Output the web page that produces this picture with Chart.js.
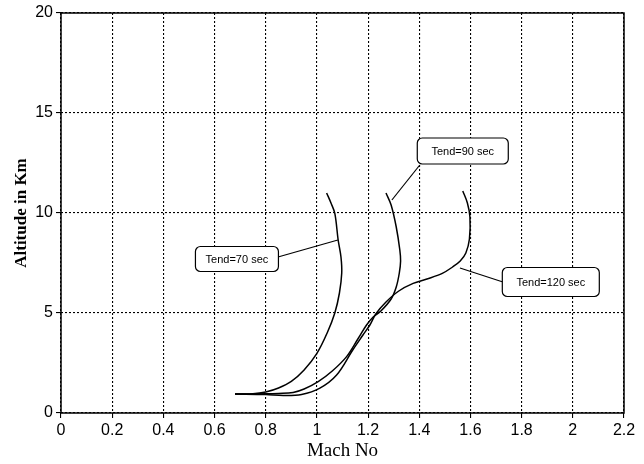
<!DOCTYPE html>
<html>
<head>
<meta charset="utf-8">
<script src="https://cdn.jsdelivr.net/npm/chart.js@4"></script>
<style>
  html, body { margin: 0; padding: 0; background: #fff; }
  #wrap { width: 644px; height: 464px; }
</style>
</head>
<body>
<div id="wrap"><canvas id="c"></canvas></div>
<script>
// Mach number vs altitude for three burn times
var xTicks = [0, 0.2, 0.4, 0.6, 0.8, 1, 1.2, 1.4, 1.6, 1.8, 2, 2.2];
var yTicks = [0, 5, 10, 15, 20];

var mach70 = [0.68, 0.75, 0.80, 0.85, 0.90, 0.95, 1.00, 1.04, 1.07, 1.088, 1.097, 1.094, 1.083, 1.07, 1.055, 1.038];
var alt70  = [0.95, 0.96, 1.05, 1.25, 1.58, 2.15, 2.98, 4.0, 5.0, 6.0, 7.0, 7.8, 8.65, 9.98, 10.5, 11.0];

var mach90 = [0.68, 0.80, 0.85, 0.907, 0.95, 1.005, 1.06, 1.116, 1.16, 1.194, 1.22, 1.25, 1.29, 1.31, 1.322, 1.327, 1.324, 1.31, 1.29, 1.27];
var alt90  = [0.95, 0.96, 0.98, 1.03, 1.2, 1.57, 2.1, 2.82, 3.7, 4.4, 4.8, 5.1, 5.7, 6.3, 7.0, 7.6, 8.15, 9.3, 10.4, 11.0];

var mach120 = [0.68, 0.80, 0.87, 0.94, 1.01, 1.077, 1.14, 1.18, 1.207, 1.23, 1.27, 1.32, 1.376, 1.43, 1.49, 1.53, 1.56, 1.582, 1.596, 1.598, 1.588, 1.57];
var alt120  = [0.95, 0.92, 0.88, 0.93, 1.23, 1.9, 3.15, 3.9, 4.4, 4.95, 5.55, 6.1, 6.48, 6.7, 6.98, 7.3, 7.6, 8.0, 8.7, 9.8, 10.5, 11.1];

var seriesNames = ['Tend=70 sec', 'Tend=90 sec', 'Tend=120 sec'];

function pts(xs, ys) {
    return xs.map(function (x, i) { return { x: x, y: ys[i] }; });
}

// callout boxes, in data units: box centre, leader start, leader end on curve
var callouts = [
    { text: seriesNames[0], bx: 0.6875, by: 7.7, sx: 0.848, sy: 7.8, ex: 1.082, ey: 8.65, w: 83, h: 25 },
    { text: seriesNames[1], bx: 1.57, by: 13.1, sx: 1.402, sy: 12.4, ex: 1.293, ey: 10.65, w: 91, h: 26 },
    { text: seriesNames[2], bx: 1.914, by: 6.55, sx: 1.727, sy: 6.55, ex: 1.559, ey: 7.25, w: 97, h: 29 }
];

var framePlugin = {
    id: 'frame',
    afterDraw: function (chart) {
        var a = chart.chartArea, ctx = chart.ctx;
        var xs = chart.scales.x, ys = chart.scales.y;
        ctx.save();
        ctx.setLineDash([]);
        ctx.strokeStyle = '#000';
        ctx.lineWidth = 1.5;
        ctx.strokeRect(a.left, a.top, a.right - a.left, a.bottom - a.top);

        ctx.lineWidth = 1.2;
        ctx.font = "11px 'Liberation Sans', Arial, sans-serif";
        ctx.textAlign = 'center';
        ctx.textBaseline = 'middle';
        callouts.forEach(function (c) {
            var cx = xs.getPixelForValue(c.bx), cy = ys.getPixelForValue(c.by);
            ctx.beginPath();
            ctx.moveTo(xs.getPixelForValue(c.sx), ys.getPixelForValue(c.sy));
            ctx.lineTo(xs.getPixelForValue(c.ex), ys.getPixelForValue(c.ey));
            ctx.stroke();
            ctx.beginPath();
            ctx.roundRect(cx - c.w / 2, cy - c.h / 2, c.w, c.h, 5);
            ctx.fillStyle = '#fff';
            ctx.fill();
            ctx.stroke();
            ctx.fillStyle = '#000';
            ctx.fillText(c.text, cx, cy + 1);
        });
        ctx.restore();
    }
};

function lineSet(label, xs, ys) {
    return {
        label: label,
        data: pts(xs, ys),
        showLine: true,
        borderColor: '#000',
        borderWidth: 1.5,
        pointRadius: 0,
        tension: 0.35,
        fill: false
    };
}

var tickFont = { family: "'Liberation Sans', Arial, sans-serif", size: 16 };

new Chart(document.getElementById('c'), {
    type: 'scatter',
    data: {
        datasets: [
            lineSet(seriesNames[0], mach70, alt70),
            lineSet(seriesNames[1], mach90, alt90),
            lineSet(seriesNames[2], mach120, alt120)
        ]
    },
    options: {
        responsive: true,
        maintainAspectRatio: false,
        animation: false,
        layout: { padding: { left: 0, top: 13, right: 20, bottom: 0 } },
        plugins: { legend: { display: false }, tooltip: { enabled: false } },
        scales: {
            x: {
                type: 'linear',
                min: 0,
                max: 2.2,
                afterBuildTicks: function (s) { s.ticks = xTicks.map(function (v) { return { value: v }; }); },
                afterFit: function (s) { s.height = 51; },
                ticks: {
                    color: '#000',
                    font: tickFont,
                    padding: 3,
                    maxRotation: 0,
                    autoSkip: false,
                    callback: function (v) { return String(Math.round(v * 10) / 10); }
                },
                grid: { color: '#000', lineWidth: 1.1, tickLength: 5, tickColor: '#000', tickBorderDash: [] },
                border: { display: false, dash: [2, 2] },
                title: {
                    display: true,
                    text: 'Mach No',
                    color: '#000',
                    font: { family: "'Liberation Serif', 'Times New Roman', serif", size: 19 },
                    padding: { top: 2, bottom: 2 }
                }
            },
            y: {
                type: 'linear',
                min: 0,
                max: 20,
                afterBuildTicks: function (s) { s.ticks = yTicks.map(function (v) { return { value: v }; }); },
                afterFit: function (s) { s.width = 61; },
                ticks: { color: '#000', font: tickFont, padding: 3 },
                grid: { color: '#000', lineWidth: 1.1, tickLength: 5, tickColor: '#000', tickBorderDash: [] },
                border: { display: false, dash: [2, 2] },
                title: {
                    display: true,
                    text: 'Altitude in Km',
                    color: '#000',
                    font: { family: "'Liberation Serif', 'Times New Roman', serif", size: 17, weight: 'bold' },
                    padding: { top: 11, bottom: 11 }
                }
            }
        }
    },
    plugins: [framePlugin]
});
</script>
</body>
</html>
